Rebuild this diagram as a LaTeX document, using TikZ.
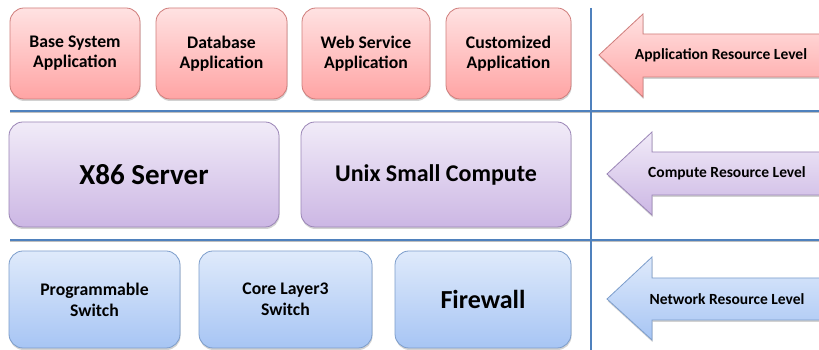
\documentclass[tikz,border=0pt]{standalone}
\usepackage{fontspec}
\setmainfont{Carlito}
\usetikzlibrary{shadows}

\definecolor{gridblue}{HTML}{4F81BD}
\definecolor{redtop}{HTML}{FFE2E2}
\definecolor{redbot}{HTML}{FFA4A4}
\definecolor{redline}{HTML}{CF7D7B}
\definecolor{purtop}{HTML}{F1EBF8}
\definecolor{purbot}{HTML}{CCB7E4}
\definecolor{purline}{HTML}{9A85B6}
\definecolor{blutop}{HTML}{DFEAFB}
\definecolor{blubot}{HTML}{A7C5F4}
\definecolor{bluline}{HTML}{7C9DCB}

\tikzset{
  tier/.style={rounded corners=14pt, inner sep=0pt, outer sep=0pt, line width=0.8pt,
    align=center, font=\bfseries,
    drop shadow={shadow xshift=0.5pt, shadow yshift=-2pt, opacity=0.25, fill=black!70}},
  appbox/.style={tier, draw=redline, top color=redtop, bottom color=redbot,
    minimum height=91pt, font=\bfseries\fontsize{17.7}{20}\selectfont},
  cmpbox/.style={tier, draw=purline, top color=purtop, bottom color=purbot,
    minimum height=105pt, minimum width=270pt},
  netbox/.style={tier, draw=bluline, top color=blutop, bottom color=blubot,
    minimum height=97pt},
  levelline/.style={draw=gridblue, line width=2.6pt,
    preaction={draw=black!25, line width=2.6pt, transform canvas={yshift=-1pt}}},
  lvlarrow/.style={line width=0.8pt, line join=miter,
    drop shadow={shadow xshift=0.5pt, shadow yshift=-2pt, opacity=0.25, fill=black!70}},
  lvltext/.style={font=\bfseries\fontsize{15.5}{18}\selectfont, inner sep=0pt}
}

\begin{document}
\begin{tikzpicture}[x=1pt, y=1pt]
  \useasboundingbox (0,0) rectangle (819,350);
  \clip (0,0) rectangle (819,350);
  \fill[white] (0,0) rectangle (819,350);

  % separators between the resource levels
  \coordinate (h1w) at (10,239);
  \coordinate (h1e) at (830,239);
  \coordinate (h2w) at (10,110);
  \coordinate (h2e) at (830,110);
  \coordinate (vn) at (591,342);
  \coordinate (vs) at (591,-10);
  \draw[levelline] (h1w) -- (h1e);
  \draw[levelline] (h2w) -- (h2e);
  \draw[draw=gridblue, line width=2.6pt] (vn) -- (vs);

  % application level
  \node[appbox, minimum width=130pt] (basesys) at (75,296.5) {Base System\\Application};
  \node[appbox, minimum width=131pt] (database) at (221.5,296.5) {Database\\Application};
  \node[appbox, minimum width=128pt] (websvc) at (366,296.5) {Web Service\\Application};
  \node[appbox, minimum width=125pt] (custom) at (508.5,296.5) {Customized\\Application};

  % compute level
  \node[cmpbox, font=\bfseries\fontsize{29}{34}\selectfont] (x86) at (144,175.5) {X86 Server};
  \node[cmpbox, font=\bfseries\fontsize{24}{28}\selectfont] (unix) at (436,175.5) {Unix Small Compute};

  % network level
  \node[netbox, minimum width=171pt, font=\bfseries\fontsize{17.7}{21}\selectfont] (progsw) at (94.5,50.5) {Programmable\\Switch};
  \node[netbox, minimum width=173pt, font=\bfseries\fontsize{17.7}{21}\selectfont] (coresw) at (285.5,50.5) {Core Layer3\\Switch};
  \node[netbox, minimum width=176pt, font=\bfseries\fontsize{26}{30}\selectfont] (firewall) at (483,50.5) {Firewall};

  % level arrows pointing at each tier
  \path[lvlarrow, draw=redline, top color=redtop, bottom color=redbot]
    (599,295) -- (643,336) -- (643,316) -- (830,316) -- (830,273) -- (643,273) -- (643,253) -- cycle;
  \node[lvltext] (applevel) at (721,295) {Application Resource Level};

  \path[lvlarrow, draw=purline, top color=purtop, bottom color=purbot]
    (607,176) -- (652,218) -- (652,198) -- (830,198) -- (830,155) -- (652,155) -- (652,135) -- cycle;
  \node[lvltext] (cmplevel) at (727,177) {Compute Resource Level};

  \path[lvlarrow, draw=bluline, top color=blutop, bottom color=blubot]
    (607,51) -- (652,93) -- (652,72) -- (830,72) -- (830,30) -- (652,30) -- (652,10) -- cycle;
  \node[lvltext] (netlevel) at (727,51) {Network Resource Level};
\end{tikzpicture}
\end{document}
